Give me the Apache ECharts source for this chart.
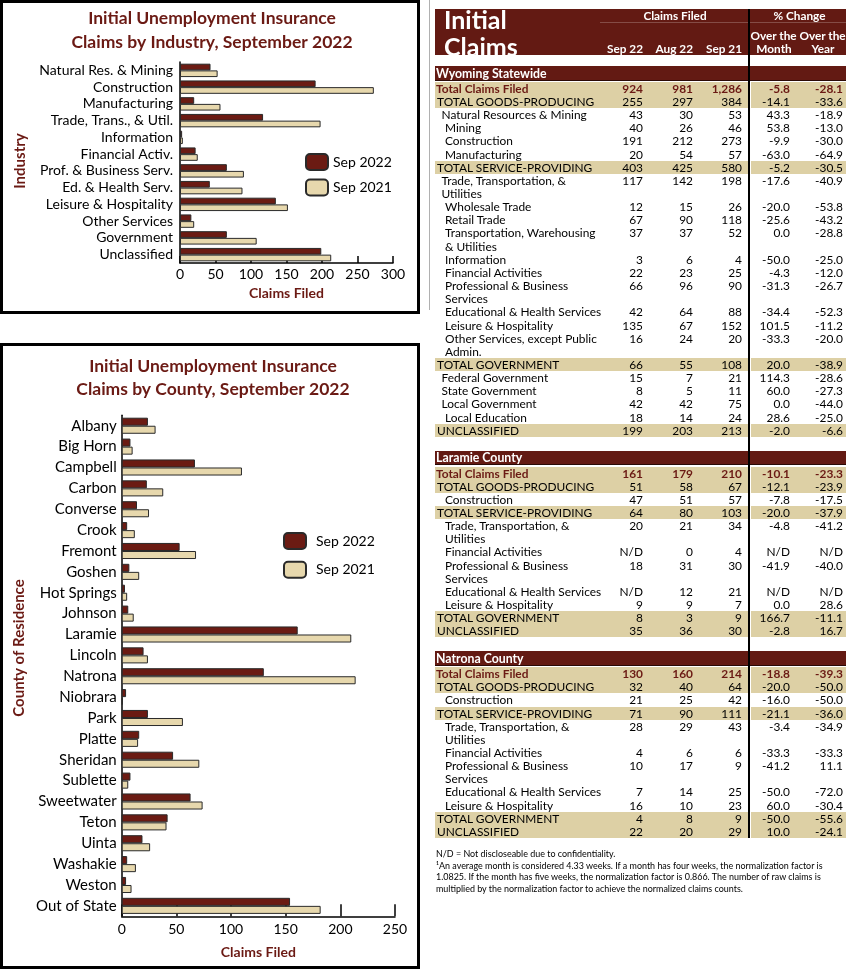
<!DOCTYPE html>
<html><head><meta charset="utf-8">
<script src="https://cdn.jsdelivr.net/npm/echarts/dist/echarts.min.js"></script>
<style>
html,body{margin:0;padding:0}
body{width:850px;height:969px;position:relative;background:#fff;font-family:Lato,sans-serif;overflow:hidden}
#chart{position:absolute;left:0;top:0;width:422px;height:969px;z-index:2}
.box{position:absolute;border:3px solid #000;box-sizing:border-box;z-index:1}
#tbl{position:absolute;left:0;top:0;width:850px;height:969px;z-index:3}
.t{position:absolute;white-space:pre;font-size:11.9px;color:#000}
.r{position:absolute}
</style></head>
<body>
<div class="box" style="left:0;top:0;width:420px;height:314px"></div>
<div class="box" style="left:0;top:343px;width:420px;height:626px"></div>
<div id="chart"></div>
<div id="tbl"></div>
<script>
// ---------- chart data ----------
const seriesNames = ['Sep 2022', 'Sep 2021'];
const industryCategories = ['Natural Res. & Mining','Construction','Manufacturing','Trade, Trans., & Util.','Information','Financial Activ.','Prof. & Business Serv.','Ed. & Health Serv.','Leisure & Hospitality','Other Services','Government','Unclassified'];
const industrySep2022 = [43,191,20,117,3,22,66,42,135,16,66,199];
const industrySep2021 = [53,273,57,198,4,25,90,88,152,20,108,213];
const industryTicks = {min:0, max:300, interval:50};

const countyCategories = ['Albany','Big Horn','Campbell','Carbon','Converse','Crook','Fremont','Goshen','Hot Springs','Johnson','Laramie','Lincoln','Natrona','Niobrara','Park','Platte','Sheridan','Sublette','Sweetwater','Teton','Uinta','Washakie','Weston','Out of State'];
const countySep2022 = [24,8,67,23,14,5,53,7,3,6,161,20,130,4,24,16,47,8,63,42,19,5,4,154];
const countySep2021 = [31,10,110,38,25,12,68,16,5,11,210,24,214,1,56,15,71,6,74,41,26,13,9,182];
const countyTicks = {min:0, max:250, interval:50};

// ---------- table data ----------
const headColumns = ['Sep 22','Aug 22','Sep 21'];
const wyLabels = ['Total Claims Filed','TOTAL GOODS-PRODUCING','Natural Resources & Mining','Mining','Construction','Manufacturing','TOTAL SERVICE-PROVIDING','Trade, Transportation, &\nUtilities','Wholesale Trade','Retail Trade','Transportation, Warehousing\n& Utilities','Information','Financial Activities','Professional & Business\nServices','Educational & Health Services','Leisure & Hospitality','Other Services, except Public\nAdmin.','TOTAL GOVERNMENT','Federal Government','State Government','Local Government','Local Education','UNCLASSIFIED'];
const wyKinds = ['total','group','sub','item','item','item','group','sub','item','item','item','item','item','item','item','item','item','group','sub','sub','sub','item','group'];
const wySep22 = ['924','255','43','40','191','20','403','117','12','67','37','3','22','66','42','135','16','66','15','8','42','18','199'];
const wyAug22 = ['981','297','30','26','212','54','425','142','15','90','37','6','23','96','64','67','24','55','7','5','42','14','203'];
const wySep21 = ['1,286','384','53','46','273','57','580','198','26','118','52','4','25','90','88','152','20','108','21','11','75','24','213'];
const wyMonth = ['-5.8','-14.1','43.3','53.8','-9.9','-63.0','-5.2','-17.6','-20.0','-25.6','0.0','-50.0','-4.3','-31.3','-34.4','101.5','-33.3','20.0','114.3','60.0','0.0','28.6','-2.0'];
const wyYear = ['-28.1','-33.6','-18.9','-13.0','-30.0','-64.9','-30.5','-40.9','-53.8','-43.2','-28.8','-25.0','-12.0','-26.7','-52.3','-11.2','-20.0','-38.9','-28.6','-27.3','-44.0','-25.0','-6.6'];

const countyLabels = ['Total Claims Filed','TOTAL GOODS-PRODUCING','Construction','TOTAL SERVICE-PROVIDING','Trade, Transportation, &\nUtilities','Financial Activities','Professional & Business\nServices','Educational & Health Services','Leisure & Hospitality','TOTAL GOVERNMENT','UNCLASSIFIED'];
const countyKinds = ['total','group','item','group','item','item','item','item','item','group','group'];
const larSep22 = ['161','51','47','64','20','N/D','18','N/D','9','8','35'];
const larAug22 = ['179','58','51','80','21','0','31','12','9','3','36'];
const larSep21 = ['210','67','57','103','34','4','30','21','7','9','30'];
const larMonth = ['-10.1','-12.1','-7.8','-20.0','-4.8','N/D','-41.9','N/D','0.0','166.7','-2.8'];
const larYear = ['-23.3','-23.9','-17.5','-37.9','-41.2','N/D','-40.0','N/D','28.6','-11.1','16.7'];

const natSep22 = ['130','32','21','71','28','4','10','7','16','4','22'];
const natAug22 = ['160','40','25','90','29','6','17','14','10','8','20'];
const natSep21 = ['214','64','42','111','43','6','9','25','23','9','29'];
const natMonth = ['-18.8','-20.0','-16.0','-21.1','-3.4','-33.3','-41.2','-50.0','60.0','-50.0','10.0'];
const natYear = ['-39.3','-50.0','-50.0','-36.0','-34.9','-33.3','11.1','-72.0','-30.4','-55.6','-24.1'];

const footnotes = [
 'N/D = Not discloseable due to confidentiality.',
 '\u00b9An average month is considered 4.33 weeks. If a month has four weeks, the normalization factor is',
 '1.0825. If the month has five weeks, the normalization factor is 0.866. The number of raw claims is',
 'multiplied by the normalization factor to achieve the normalized claims counts.'
];

// ---------- chart ----------
const DARK = '#6B1B13', LIGHT = '#E7D8AD', MAROON = '#6B1A14';
const chart = echarts.init(document.getElementById('chart'));
function xAx(idx, ticks, tickLen, labelMargin, nameGap){
  return {gridIndex:idx, type:'value', min:ticks.min, max:ticks.max, interval:ticks.interval,
    splitLine:{show:false},
    axisLine:{show:true, lineStyle:{color:'#000', width:1.5}},
    axisTick:{show:true, inside:true, length:tickLen, lineStyle:{color:'#000', width:1.5}},
    axisLabel:{fontSize:14, color:'#000', margin:labelMargin, fontFamily:'Lato'},
    name:'Claims Filed', nameLocation:'middle', nameGap:nameGap,
    nameTextStyle:{fontSize:14, fontWeight:'bold', color:MAROON, fontFamily:'Lato'}};
}
function yAx(idx, cats, fs, margin){
  return {gridIndex:idx, type:'category', data:cats, inverse:true,
    axisLine:{show:true, lineStyle:{color:'#000', width:1.5}},
    axisTick:{show:false},
    axisLabel:{fontSize:fs, color:'#000', margin:margin, fontFamily:'Lato', interval:0}};
}
function bars(name, idx, data, color, gap){
  return {name:name, type:'bar', xAxisIndex:idx, yAxisIndex:idx, data:data, barGap:'0%', barCategoryGap:gap,
    itemStyle:{color:color, borderColor:'#2a2a2a', borderWidth:1}};
}
function gtext(x, y, text, font, color, rot){
  return {type:'text', x:x, y:y, rotation:rot||0, style:{text:text, font:font, fill:color,
    textAlign:'center', textVerticalAlign:'middle', align:'center', verticalAlign:'middle'}};
}
const titleFont = 'bold 17.5px Lato';
chart.setOption({
  animation:false,
  textStyle:{fontFamily:'Lato'},
  grid:[{left:180, top:62, width:213, height:201}, {left:121.7, top:415.3, width:273.3, height:501}],
  xAxis:[xAx(0, industryTicks, 7, 4, 23), xAx(1, countyTicks, 12, 6, 29)],
  yAxis:[yAx(0, industryCategories, 14, 7), yAx(1, countyCategories, 15, 5)],
  legend:[
    {data:seriesNames, orient:'vertical', left:300, top:148, itemWidth:22, itemHeight:16, itemGap:7.5,
     textStyle:{fontSize:14, color:'#000', fontFamily:'Lato'}},
    {data:seriesNames, orient:'vertical', left:278, top:527, itemWidth:22, itemHeight:16, itemGap:10.7,
     textStyle:{fontSize:14, color:'#000', fontFamily:'Lato', padding:[0,0,0,5]}}
  ],
  series:[
    bars(seriesNames[0], 0, industrySep2022, DARK, '20%'),
    bars(seriesNames[1], 0, industrySep2021, LIGHT, '20%'),
    bars(seriesNames[0], 1, countySep2022, DARK, '23%'),
    bars(seriesNames[1], 1, countySep2021, LIGHT, '23%')
  ],
  graphic:[
    gtext(212, 18, 'Initial Unemployment Insurance', titleFont, MAROON),
    gtext(212, 42, 'Claims by Industry, September 2022', titleFont, MAROON),
    gtext(213, 366, 'Initial Unemployment Insurance', titleFont, MAROON),
    gtext(213, 389, 'Claims by County, September 2022', titleFont, MAROON),
    gtext(20.5, 161, 'Industry', 'bold 15px Lato', MAROON, Math.PI/2),
    gtext(19, 648, 'County of Residence', 'bold 15px Lato', MAROON, Math.PI/2)
  ]
});

// ---------- table ----------
const HEAD = '#631A13', BEIGE = '#DDD0A5';
const T = document.getElementById('tbl');
const LH = 13.15;
function rect(x, y, w, h, c){
  const d = document.createElement('div'); d.className = 'r';
  Object.assign(d.style, {left:x+'px', top:y+'px', width:w+'px', height:h+'px', background:c});
  T.appendChild(d); return d;
}
function txt(s, x, y, css){
  const d = document.createElement('div'); d.className = 't'; d.textContent = s;
  Object.assign(d.style, {left:x+'px', top:y+'px', lineHeight:LH+'px'}, css||{});
  T.appendChild(d); return d;
}
function rtxt(s, right, y, css){
  return txt(s, right-90, y, Object.assign({width:'90px', textAlign:'right'}, css||{}));
}
function ctxt(s, center, y, css){
  return txt(s, center-60, y, Object.assign({width:'120px', textAlign:'center'}, css||{}));
}
// gray panel edge
rect(428.5, 0, 1.5, 310, '#b0b0b0');
// header
rect(435, 9, 411, 46, HEAD);
const W = {color:'#fff', fontWeight:'bold', fontSize:'11.8px'};
txt('Initial', 444, 5, Object.assign({}, W, {fontSize:'25px', lineHeight:'28px'}));
txt('Claims', 444, 31.5, Object.assign({}, W, {fontSize:'25px', lineHeight:'28px'}));
ctxt('Claims Filed', 675, 8.5, W);
ctxt('% Change', 799.5, 8.5, W);
rect(600, 22, 246, 1, 'rgba(255,255,255,0.22)');
ctxt('Over the', 773.5, 28.5, W);
ctxt('Over the', 822.5, 28.5, W);
ctxt('Month', 774, 41.5, W);
ctxt('Year', 823, 41.5, W);
const colRights = [643, 693, 742, 790, 843];
headColumns.forEach((h, i) => rtxt(h, colRights[i], 41.5, W));

const sections = [
  ['Wyoming Statewide', wyLabels, wyKinds, [wySep22, wyAug22, wySep21, wyMonth, wyYear]],
  ['Laramie County', countyLabels, countyKinds, [larSep22, larAug22, larSep21, larMonth, larYear]],
  ['Natrona County', countyLabels, countyKinds, [natSep22, natAug22, natSep21, natMonth, natYear]]
];
const indent = {total:436, group:437, sub:441.5, item:445};
let y = 66;
let lastBottom = 0;
sections.forEach(([title, labels, kinds, cols]) => {
  rect(435, y, 411, 14.3, HEAD);
  rect(435, y+13.6, 411, 1, '#2a0a06');
  txt(title, 436, y+0.6, {color:'#fff', fontWeight:'bold', fontSize:'12.3px'});
  let ry = y + 15.8;
  labels.forEach((lab, i) => {
    const k = kinds[i];
    const lines = lab.split('\n').length;
    if (k === 'total' || k === 'group') {
      rect(435, ry, 312.5, LH*lines, BEIGE);
      rect(750.5, ry, 95.5, LH*lines, BEIGE);
    }
    const st = k === 'total' ? {color:MAROON, fontWeight:'bold'} : {};
    txt(lab, indent[k], ry, st);
    cols.forEach((c, j) => rtxt(c[i], colRights[j], ry, st));
    ry += LH*lines;
  });
  lastBottom = ry;
  y = ry + 13.85;
});
rect(748, 9, 2, lastBottom - 9, '#000');
footnotes.forEach((f, i) => txt(f, 436, 848 + i*11.7, {fontSize:'8.95px', lineHeight:'11.7px'}));
</script>
</body></html>
